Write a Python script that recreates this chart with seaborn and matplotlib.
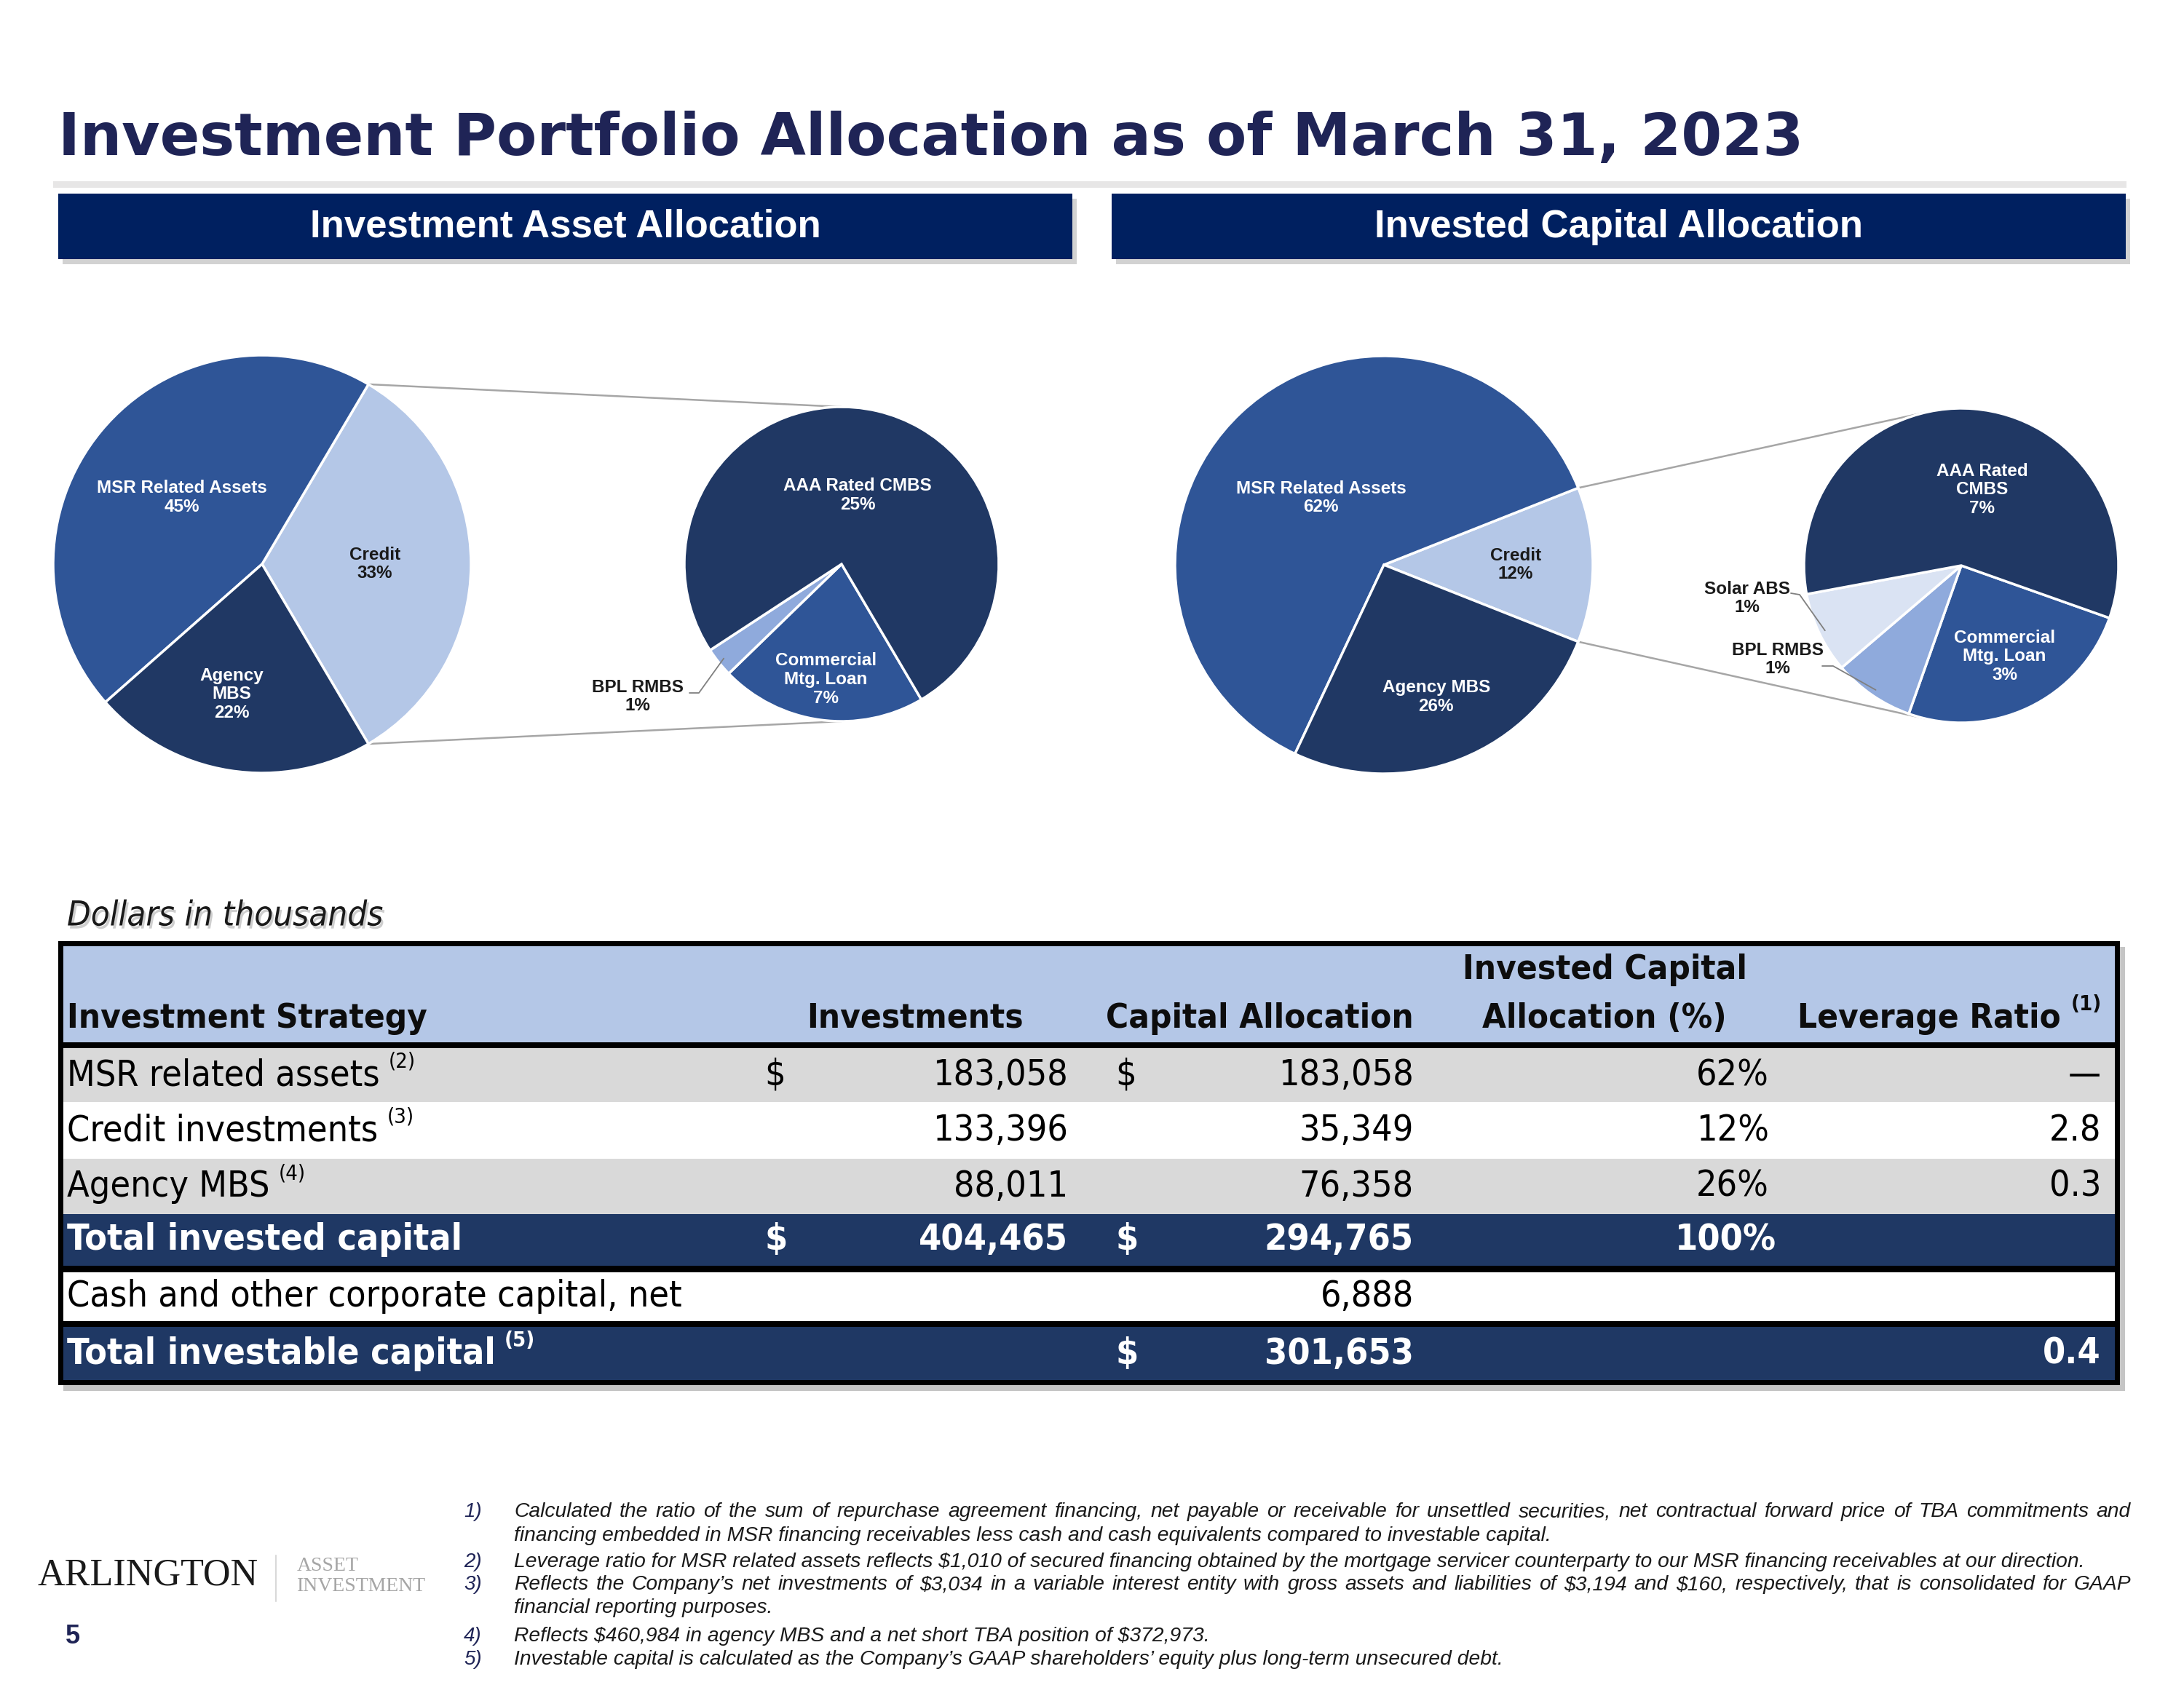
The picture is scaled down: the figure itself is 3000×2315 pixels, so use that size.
import matplotlib
matplotlib.use("Agg")
import matplotlib.pyplot as plt
import matplotlib.patheffects as pe
from matplotlib.patches import Rectangle
import numpy as np
import seaborn as sns

# ---- chart data ----
asset_labels = ["Credit", "MSR Related Assets", "Agency\nMBS"]
asset_pct = [33, 45, 22]
asset_credit_labels = ["Commercial\nMtg. Loan", "BPL RMBS", "AAA Rated CMBS"]
asset_credit_pct = [7, 1, 25]

capital_labels = ["Credit", "MSR Related Assets", "Agency MBS"]
capital_pct = [12, 62, 26]
capital_credit_labels = ["Commercial\nMtg. Loan", "BPL RMBS", "Solar ABS", "AAA Rated\nCMBS"]
capital_credit_pct = [3, 1, 1, 7]

# ---- table data ----
strategy = ["MSR related assets", "Credit investments", "Agency MBS",
            "Total invested capital", "Cash and other corporate capital, net",
            "Total investable capital"]
strategy_notes = ["(2)", "(3)", "(4)", "", "", "(5)"]
investments = [183058, 133396, 88011, 404465, None, None]
capital_alloc = [183058, 35349, 76358, 294765, 6888, 301653]
capital_share = [62, 12, 26, 100, None, None]
leverage = ["—", 2.8, 0.3, None, None, 0.4]
dollar_inv_rows = [0, 3]
dollar_cap_rows = [0, 3, 5]

footnotes = [
    ["Calculated the ratio of the sum of repurchase agreement financing, net payable or receivable for unsettled securities, net contractual forward price of TBA commitments and",
     "financing embedded in MSR financing receivables less cash and cash equivalents compared to investable capital."],
    ["Leverage ratio for MSR related assets reflects $1,010 of secured financing obtained by the mortgage servicer counterparty to our MSR financing receivables at our direction."],
    ["Reflects the Company’s net investments of $3,034 in a variable interest entity with gross assets and liabilities of $3,194 and $160, respectively, that is consolidated for GAAP",
     "financial reporting purposes."],
    ["Reflects $460,984 in agency MBS and a net short TBA position of $372,973."],
    ["Investable capital is calculated as the Company’s GAAP shareholders’ equity plus long-term unsecured debt."],
]

# ---- style ----
sns.set_theme(style="white")
plt.rcParams["font.family"] = ["Liberation Sans", "DejaVu Sans"]

W, H = 3000, 2315
NAVY_TXT = "#1F2456"
BOX = "#002060"
MID = "#2F5597"
LIGHT = "#B4C7E7"
DARK = "#203864"
BPL = "#8FAADC"
SOLAR = "#DAE3F3"
GRAY_ROW = "#D9D9D9"
NAVY_ROW = "#1F3864"
TF = dict(family="DejaVu Sans", fontstretch="condensed")


def Y(y):
    return H - y


fig = plt.figure(figsize=(W / 100, H / 100), dpi=100)
ax = fig.add_axes([0, 0, 1, 1])
renderer = fig.canvas.get_renderer()


def reset_limits():
    ax.set_xlim(0, W)
    ax.set_ylim(0, H)


# title
ax.text(80, Y(213), "Investment Portfolio Allocation as of March 31, 2023",
        family="DejaVu Sans", fontweight="bold", fontsize=58, color=NAVY_TXT,
        va="baseline", ha="left")
ax.add_patch(Rectangle((73, Y(258)), 2848, 9, color="#E7E6E6", lw=0))

# section header boxes
shadow = [pe.SimplePatchShadow(offset=(4, -5), shadow_rgbFace="#8F8F8F", alpha=0.4), pe.Normal()]
for x0, txt in [(80, "Investment Asset Allocation"), (1527, "Invested Capital Allocation")]:
    ax.add_patch(Rectangle((x0, Y(356)), 1393, 90, color=BOX, lw=0, path_effects=shadow))
    ax.text(x0 + 1393 / 2, Y(312), txt, color="white", fontweight="bold",
            fontsize=38, ha="center", va="center")


def draw_pie(values, labels, colors, txt_colors, center, radius, start, dists, counterclock):
    wedges, _ = ax.pie(values, colors=colors, startangle=start, counterclock=counterclock,
                       center=center, radius=radius,
                       wedgeprops=dict(edgecolor="white", linewidth=2.5))
    for w, lab, v, tc, d in zip(wedges, labels, values, txt_colors, dists):
        if d is None:
            continue
        mid = np.deg2rad((w.theta1 + w.theta2) / 2 + d[1])
        ax.text(center[0] + d[0] * radius * np.cos(mid), center[1] + d[0] * radius * np.sin(mid),
                f"{lab}\n{v}%", ha="center", va="center", color=tc,
                fontsize=17.5, fontweight="bold", linespacing=1.15)
    return wedges


def on_circle(center, radius, ang, k=1.0):
    a = np.deg2rad(ang)
    return center[0] + k * radius * np.cos(a), center[1] + k * radius * np.sin(a)


def leader(text, lab_xy, pts, wedge, center, radius):
    ax.text(lab_xy[0], lab_xy[1], text, ha="center", va="center", color="#1A1A1A",
            fontsize=17.5, fontweight="bold", linespacing=1.15)
    end = on_circle(center, radius, (wedge.theta1 + wedge.theta2) / 2, 0.96)
    xs = [p[0] for p in pts] + [end[0]]
    ys = [p[1] for p in pts] + [end[1]]
    ax.plot(xs, ys, color="#808080", lw=1.3, zorder=1)


CONN = "#A6A6A6"

# left: investment asset allocation
c1, r1 = (360, Y(775)), 287
c2, r2 = (1156, Y(775)), 216
w_main = draw_pie(asset_pct, asset_labels, [LIGHT, MID, DARK], ["#1A1A1A", "white", "white"],
                  c1, r1, -asset_pct[0] * 1.8, [(0.54, 0), (0.5, 0), (0.64, -4)], True)
w_sub = draw_pie(asset_credit_pct, asset_credit_labels, [MID, BPL, DARK], ["white", None, "white"],
                 c2, r2, -59.5, [(0.74, 0), None, (0.45, 0)], False)
for ang_m, ang_s in [(w_main[0].theta2, 90), (w_main[0].theta1, 270)]:
    p, q = on_circle(c1, r1, ang_m), on_circle(c2, r2, ang_s)
    ax.plot([p[0], q[0]], [p[1], q[1]], color=CONN, lw=1.8, zorder=0)
leader(f"{asset_credit_labels[1]}\n{asset_credit_pct[1]}%", (876, Y(957)),
       [(947, Y(952)), (960, Y(952))], w_sub[1], c2, r2)

# right: invested capital allocation
c3, r3 = (1901, Y(776)), 287
c4, r4 = (2694, Y(777)), 216
w_main = draw_pie(capital_pct, capital_labels, [LIGHT, MID, DARK], ["#1A1A1A", "white", "white"],
                  c3, r3, -capital_pct[0] * 1.8, [(0.63, 0), (0.44, 0), (0.68, 0)], True)
w_sub = draw_pie(capital_credit_pct, capital_credit_labels, [MID, BPL, SOLAR, DARK],
                 ["white", None, None, "white"], c4, r4, -19.5,
                 [(0.64, 0), None, None, (0.5, -11)], False)
for ang_m, ang_s in [(w_main[0].theta2, 103), (w_main[0].theta1, 257)]:
    p, q = on_circle(c3, r3, ang_m), on_circle(c4, r4, ang_s)
    ax.plot([p[0], q[0]], [p[1], q[1]], color=CONN, lw=1.8, zorder=0)
leader(f"{capital_credit_labels[2]}\n{capital_credit_pct[2]}%", (2400, Y(822)),
       [(2460, Y(815)), (2472, Y(817))], w_sub[2], c4, r4)
leader(f"{capital_credit_labels[1]}\n{capital_credit_pct[1]}%", (2442, Y(906)),
       [(2503, Y(915)), (2518, Y(915))], w_sub[1], c4, r4)

reset_limits()

# ---- table ----
ax.text(92, Y(1259), "Dollars in thousands", style="italic",
        fontsize=34, color="#1A1A1A", va="center", ha="left",
        path_effects=[pe.withSimplePatchShadow(offset=(2, -3), shadow_rgbFace="#9F9F9F", alpha=0.5)],
        **TF)

tab_shadow = [pe.SimplePatchShadow(offset=(5, -6), shadow_rgbFace="#808080", alpha=0.45), pe.Normal()]
ax.add_patch(Rectangle((80, Y(1903)), 2832, 610, color="black", lw=0, path_effects=tab_shadow))
bands = [(1300, 1432, LIGHT), (1440, 1514, GRAY_ROW), (1514, 1592, "white"),
         (1592, 1668, GRAY_ROW), (1668, 1739, NAVY_ROW), (1748, 1815, "white"),
         (1823, 1896, NAVY_ROW)]
for top, bot, col in bands:
    ax.add_patch(Rectangle((87, Y(bot)), 2818, bot - top, color=col, lw=0))

hdr = dict(fontweight="bold", fontsize=34, color="#0D0D0D", va="baseline", **TF)
ax.text(92, Y(1412), "Investment Strategy", ha="left", **hdr)
ax.text(1406, Y(1412), "Investments", ha="right", **hdr)
ax.text(1942, Y(1412), "Capital Allocation", ha="right", **hdr)
ax.text(2204, Y(1345), "Invested Capital", ha="center", **hdr)
ax.text(2204, Y(1412), "Allocation (%)", ha="center", **hdr)
ax.text(2831, Y(1412), "Leverage Ratio", ha="right", **hdr)
ax.text(2845, Y(1388), "(1)", ha="left", fontweight="bold",
        fontsize=21, color="#0D0D0D", va="baseline", **TF)

row_y = [1477, 1553, 1630, 1703, 1781, 1860]
for i, yy in enumerate(row_y):
    bold = i in (3, 5)
    col = "white" if bold else "black"
    kw = dict(fontsize=36, color=col, va="center",
              fontweight="bold" if bold else "normal", parse_math=False, **TF)
    t = ax.text(92, Y(yy), strategy[i], ha="left", **kw)
    if strategy_notes[i]:
        bb = t.get_window_extent(renderer)
        ax.text(bb.x1 + 12, Y(yy) + 4, strategy_notes[i], ha="left", va="bottom",
                fontsize=21, color=col, fontweight="bold" if bold else "normal", **TF)
    if i in dollar_inv_rows:
        ax.text(1050, Y(yy), "$", ha="left", **kw)
    if i in dollar_cap_rows:
        ax.text(1532, Y(yy), "$", ha="left", **kw)
    if investments[i] is not None:
        ax.text(1467, Y(yy), f"{investments[i]:,}", ha="right", **kw)
    if capital_alloc[i] is not None:
        ax.text(1942, Y(yy), f"{capital_alloc[i]:,}", ha="right", **kw)
    if capital_share[i] is not None:
        ax.text(2440 if bold else 2430, Y(yy), f"{capital_share[i]}%", ha="right", **kw)
    if leverage[i] is not None:
        ax.text(2886, Y(yy), str(leverage[i]), ha="right", **kw)

# ---- footer ----
ax.text(52, Y(2164), "ARLINGTON", family="Liberation Serif", fontsize=37.5,
        color="#1A1A1A", ha="left", va="center")
ax.plot([379, 379], [Y(2137), Y(2200)], color="#D9D9D9", lw=1.5)
ax.text(408, Y(2152), "ASSET", family="Liberation Serif", fontsize=20, color="#A6A6A6",
        ha="left", va="center")
ax.text(408, Y(2179), "INVESTMENT", family="Liberation Serif", fontsize=20, color="#A6A6A6",
        ha="left", va="center")
ax.text(100, Y(2248), "5", fontweight="bold", fontsize=26, color=NAVY_TXT,
        ha="center", va="center")

FN = dict(style="italic", fontsize=20.3, color="#1A1A1A", va="center", parse_math=False)
X0, X1 = 706, 2927


def justify(y, text):
    words = text.split(" ")
    widths = []
    for w in words:
        t = ax.text(0, 0, w, **FN)
        widths.append(t.get_window_extent(renderer).width)
        t.remove()
    gap = (X1 - X0 - sum(widths)) / (len(words) - 1)
    x = X0
    for w, wd in zip(words, widths):
        ax.text(x, y, w, ha="left", **FN)
        x += wd + gap


line_y = [[2077, 2110], [2146], [2177, 2209], [2248], [2280]]
for n, (lines, ys) in enumerate(zip(footnotes, line_y), start=1):
    ax.text(637, Y(ys[0]), f"{n})", style="italic", fontsize=20, color=NAVY_TXT,
            ha="left", va="center")
    for k, (ln, yy) in enumerate(zip(lines, ys)):
        if k < len(lines) - 1:
            justify(Y(yy), ln)
        else:
            ax.text(X0, Y(yy), ln, ha="left", **FN)

reset_limits()
ax.set_axis_off()
fig.savefig("out.png", dpi=100)
